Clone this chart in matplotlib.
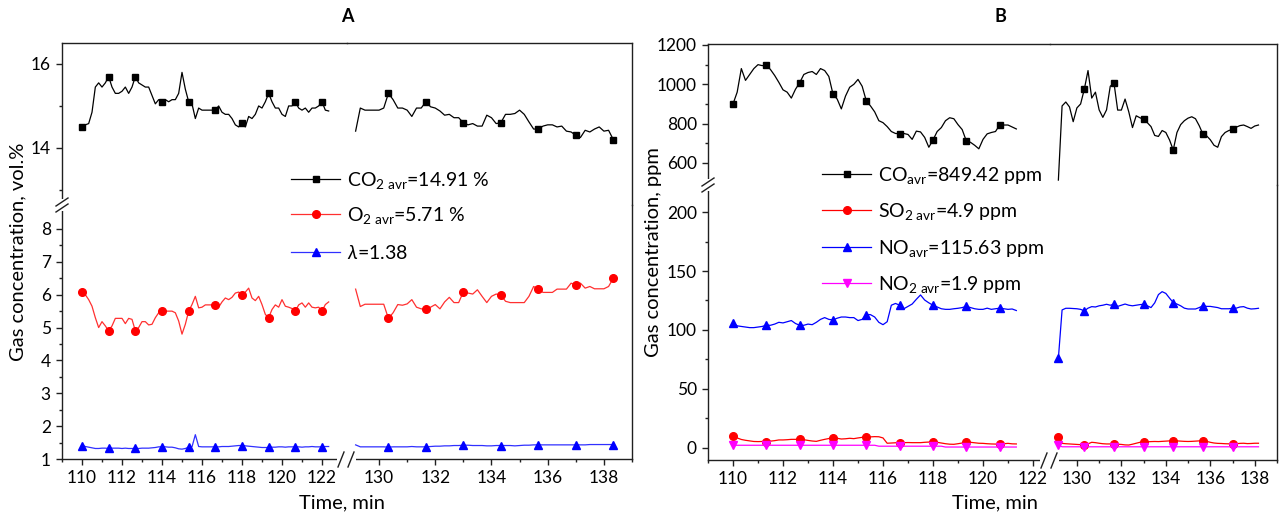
import numpy as np
import matplotlib
matplotlib.use("Agg")
import matplotlib.pyplot as plt
from matplotlib.lines import Line2D
from matplotlib.patches import Rectangle

plt.rcParams['font.family'] = ['Lato', 'DejaVu Sans']
plt.rcParams['mathtext.fontset'] = 'custom'
plt.rcParams['mathtext.rm'] = 'Lato'
plt.rcParams['mathtext.it'] = 'Lato:italic'
plt.rcParams['mathtext.bf'] = 'Lato:bold'

W, H = 1282, 520

# sampling every 10 s (1/6 min)
t_a_left = 110 + np.arange(75) / 6
t_a_right = 129 + 1 / 6 + np.arange(56) / 6
t_b_left = 110 + np.arange(69) / 6
t_b_right = 129 + 1 / 6 + np.arange(55) / 6

# ---- panel A, vol.% ----
co2_left = [14.50, 14.55, 14.58, 14.85, 15.45, 15.55, 15.45, 15.55, 15.70, 15.45,
            15.30, 15.30, 15.35, 15.45, 15.30, 15.45, 15.70, 15.55, 15.50, 15.45,
            15.45, 15.25, 15.05, 15.15, 15.10, 15.15, 15.10, 15.15, 15.15, 15.30,
            15.80, 15.40, 15.10, 15.05, 14.70, 14.95, 14.90, 14.90, 14.90, 14.90,
            14.90, 15.00, 14.85, 14.80, 14.80, 14.70, 14.55, 14.50, 14.60, 14.50,
            14.75, 14.70, 14.80, 15.00, 14.95, 15.10, 15.30, 15.10, 14.95, 14.95,
            14.80, 14.75, 15.00, 15.00, 15.10, 14.95, 14.90, 14.95, 14.85, 14.95,
            14.95, 15.00, 15.10, 14.90, 14.88]
co2_right = [14.40, 14.95, 14.90, 14.90, 14.90, 14.90, 14.95, 15.30, 15.15, 14.95,
             14.95, 14.90, 14.75, 14.95, 14.95, 15.10, 14.98, 14.95, 14.88, 14.78,
             14.80, 14.72, 14.72, 14.60, 14.55, 14.58, 14.52, 14.52, 14.78, 14.72,
             14.58, 14.60, 14.80, 14.80, 14.82, 14.90, 14.80, 14.62, 14.45, 14.45,
             14.52, 14.55, 14.55, 14.50, 14.52, 14.40, 14.38, 14.30, 14.25, 14.42,
             14.38, 14.45, 14.50, 14.40, 14.42, 14.20]
o2_left = [6.09, 6.00, 5.85, 5.65, 5.30, 5.00, 5.18, 5.05, 4.90, 5.05,
           5.28, 5.28, 5.28, 5.12, 5.28, 5.25, 4.90, 5.00, 5.18, 5.18,
           5.08, 5.10, 5.30, 5.45, 5.50, 5.50, 5.50, 5.50, 5.45, 5.20,
           4.80, 5.10, 5.50, 5.70, 5.95, 5.60, 5.62, 5.69, 5.69, 5.69,
           5.69, 5.62, 5.78, 5.90, 5.85, 5.92, 6.05, 6.08, 6.00, 6.08,
           6.20, 5.90, 5.82, 5.95, 5.70, 5.40, 5.30, 5.55, 5.69, 5.62,
           5.85, 5.65, 5.62, 5.58, 5.50, 5.69, 5.75, 5.62, 5.75, 5.62,
           5.60, 5.62, 5.50, 5.70, 5.78]
o2_right = [6.17, 5.64, 5.71, 5.71, 5.71, 5.71, 5.71, 5.28, 5.45, 5.70,
            5.68, 5.72, 5.85, 5.62, 5.57, 5.56, 5.62, 5.70, 5.57, 5.78,
            5.92, 5.76, 5.76, 6.09, 6.05, 6.02, 6.15, 5.95, 5.76, 5.95,
            6.02, 5.99, 5.80, 5.76, 5.76, 5.76, 5.76, 5.95, 6.25, 6.17,
            6.07, 6.07, 6.07, 6.17, 6.17, 6.17, 6.35, 6.30, 6.35, 6.20,
            6.25, 6.18, 6.18, 6.18, 6.25, 6.50]
lam_left = [1.41, 1.38, 1.36, 1.34, 1.32, 1.32, 1.33, 1.33, 1.32, 1.33,
            1.33, 1.33, 1.32, 1.33, 1.32, 1.32, 1.32, 1.32, 1.33, 1.33,
            1.33, 1.34, 1.35, 1.37, 1.37, 1.37, 1.36, 1.36, 1.34, 1.31,
            1.30, 1.32, 1.36, 1.37, 1.74, 1.38, 1.37, 1.37, 1.37, 1.37,
            1.37, 1.37, 1.38, 1.38, 1.38, 1.39, 1.40, 1.41, 1.41, 1.40,
            1.39, 1.38, 1.37, 1.36, 1.35, 1.35, 1.35, 1.36, 1.36, 1.37,
            1.37, 1.36, 1.37, 1.37, 1.37, 1.37, 1.36, 1.37, 1.37, 1.38,
            1.37, 1.37, 1.37, 1.38, 1.38]
lam_right = [1.43, 1.37, 1.37, 1.37, 1.37, 1.37, 1.37, 1.36, 1.37, 1.37,
             1.37, 1.37, 1.38, 1.37, 1.37, 1.37, 1.38, 1.39, 1.39, 1.40,
             1.40, 1.41, 1.41, 1.42, 1.42, 1.41, 1.41, 1.41, 1.40, 1.40,
             1.41, 1.41, 1.41, 1.41, 1.40, 1.41, 1.42, 1.42, 1.43, 1.43,
             1.43, 1.43, 1.43, 1.43, 1.43, 1.43, 1.43, 1.43, 1.43, 1.43,
             1.44, 1.44, 1.44, 1.44, 1.44, 1.44]

# ---- panel B, ppm ----
co_left = [900, 960, 1080, 1020, 1050, 1080, 1100, 1095, 1098, 1075,
           1045, 1010, 972, 960, 930, 975, 1008, 1050, 1060, 1065,
           1050, 1080, 1070, 1040, 950, 925, 875, 940, 985, 1000,
           1025, 990, 915, 890, 860, 815, 805, 785, 760, 750,
           749, 750, 745, 720, 762, 758, 730, 680, 717, 760,
           780, 815, 830, 825, 795, 770, 712, 705, 690, 672,
           720, 748, 755, 760, 793, 793, 793, 783, 773]
co_right = [513, 890, 910, 885, 810, 880, 900, 975, 1070, 930,
            960, 870, 832, 870, 990, 1008, 869, 869, 925, 860,
            780, 840, 830, 822, 805, 785, 740, 735, 765, 755,
            717, 666, 755, 795, 815, 828, 835, 825, 790, 747,
            738, 718, 690, 680, 734, 755, 765, 771, 782, 790,
            793, 785, 776, 788, 793]
so2_left = [10.2, 8.5, 7.2, 6.5, 6.0, 5.5, 5.4, 5.5, 5.4, 5.8,
            6.2, 6.8, 6.8, 7.0, 7.3, 7.3, 7.6, 7.0, 6.4, 5.9,
            5.6, 6.5, 7.3, 8.0, 8.8, 8.2, 7.6, 7.8, 8.2, 7.9,
            8.5, 9.0, 9.6, 9.4, 9.6, 9.5, 8.5, 4.0, 4.2, 4.4,
            4.5, 4.5, 4.6, 4.5, 4.5, 4.5, 4.8, 5.0, 5.1, 4.8,
            4.2, 3.6, 3.2, 3.1, 3.6, 4.2, 5.1, 4.8, 4.4, 4.0,
            3.9, 3.6, 3.4, 3.3, 3.1, 3.6, 3.9, 3.5, 3.4]
so2_right = [9.6, 3.9, 3.6, 3.4, 3.2, 3.0, 2.8, 2.5, 3.5, 4.8,
             4.5, 4.0, 3.6, 3.4, 3.4, 3.4, 3.2, 3.0, 2.6, 2.5,
             3.2, 4.0, 4.8, 5.1, 5.2, 5.4, 5.5, 5.4, 5.6, 5.8,
             6.0, 6.2, 6.0, 5.8, 5.6, 5.5, 5.6, 5.8, 6.0, 6.2,
             5.6, 4.8, 4.2, 3.9, 3.8, 3.6, 3.5, 3.4, 3.6, 3.9,
             4.0, 3.7, 3.8, 4.0, 4.0]
no_left = [106, 103.5, 103, 102.5, 102, 102, 102.5, 103, 104, 104,
           105, 106.5, 106, 107, 108, 105.5, 104, 104, 105, 104.5,
           106.5, 109, 110.5, 109, 108.5, 110, 111, 111, 110.5, 110.5,
           108, 109, 113, 113, 111, 106.5, 104.5, 107, 121, 122.5,
           121, 118, 120, 122, 126, 129.7, 125.4, 123, 121, 119.5,
           118, 117.5, 117.5, 118, 118.4, 119, 120, 119, 118, 117.5,
           117.5, 118.5, 117.5, 118, 118.5, 118, 117.5, 117.8, 116.5]
no_right = [76, 117, 118.4, 118.4, 118.2, 118, 117.5, 116.2, 118.5, 119.8,
            119.5, 120.5, 121, 121.8, 121, 121.8, 120, 121, 122, 121,
            120.5, 121, 121.5, 121.8, 120.5, 119, 123, 130, 132.5, 131,
            127, 123.2, 122, 120.5, 118.5, 117.8, 117.8, 117.8, 119, 120.5,
            120, 120, 119.5, 119, 118, 118, 118, 118.4, 118.5, 119.5,
            119.8, 118.5, 117.8, 118, 118.4]
no2_left = [2.3] * 35 + [1.5] * 16 + [0.8] * 18
no2_right = [2.5] + [1.0] * 54

labels_a = [r'CO$_{2\ \mathrm{avr}}$=14.91 %', r'O$_{2\ \mathrm{avr}}$=5.71 %',
            r'$\lambda$=1.38']
labels_b = [r'CO$_{\mathrm{avr}}$=849.42 ppm', r'SO$_{2\ \mathrm{avr}}$=4.9 ppm',
            r'NO$_{\mathrm{avr}}$=115.63 ppm', r'NO$_{2\ \mathrm{avr}}$=1.9 ppm']

BLACK, RED, BLUE, MAGENTA = '#000000', '#ff0000', '#0000ff', '#ff00ff'
SPINE = '#202020'


def rect(x0, y0, x1, y1):
    return [x0 / W, 1 - y1 / H, (x1 - x0) / W, (y1 - y0) / H]


def fig_line(xs, ys, **kw):
    fig.add_artist(Line2D([x / W for x in xs], [1 - y / H for y in ys],
                          transform=fig.transFigure, **kw))


def white_box(x0, y0, x1, y1):
    fig.add_artist(Rectangle((x0 / W, 1 - y1 / H), (x1 - x0) / W, (y1 - y0) / H,
                             transform=fig.transFigure, facecolor='white',
                             edgecolor='none', zorder=3))


def legend_entry(x0, y, label, color, marker, ms, lcolor=None):
    # handle: 49 px line with a marker in the middle, then the text
    fig_line([x0, x0 + 49], [y, y], color=lcolor or color, lw=0.9)
    fig_line([x0 + 24.5], [y], color=color, marker=marker, ms=ms, lw=0)
    fig.text((x0 + 56) / W, 1 - (y + 7) / H, label, fontsize=14, va='baseline')


def make_panel(px, py, xlims, ylims, xmaj, xmin, ymaj, ymin):
    x0, xm, x1 = px
    y0, ym, y1 = py
    tl = fig.add_axes(rect(x0, y0, xm, ym))
    tr = fig.add_axes(rect(xm, y0, x1, ym), sharey=tl)
    bl = fig.add_axes(rect(x0, ym, xm, y1), sharex=tl)
    br = fig.add_axes(rect(xm, ym, x1, y1), sharex=tr, sharey=bl)
    for ax in (tl, tr, bl, br):
        ax.patch.set_alpha(0)
        for s in ax.spines.values():
            s.set_color(SPINE)
            s.set_linewidth(1.0)
        ax.tick_params(which='both', direction='out', colors=SPINE, labelcolor='black',
                       labelsize=12.5, width=1.0)
        ax.tick_params(which='major', length=4.5)
        ax.tick_params(which='minor', length=2.5)
    tl.spines[['right', 'bottom']].set_visible(False)
    tr.spines[['left', 'bottom']].set_visible(False)
    bl.spines[['right', 'top']].set_visible(False)
    br.spines[['left', 'top']].set_visible(False)
    tl.tick_params(axis='x', which='both', bottom=False, labelbottom=False)
    tr.tick_params(axis='both', which='both', bottom=False, labelbottom=False,
                   left=False, labelleft=False)
    br.tick_params(axis='y', which='both', left=False, labelleft=False)
    bl.set_xticks(xmaj[0])
    bl.set_xticks(xmin[0], minor=True)
    br.set_xticks(xmaj[1])
    br.set_xticks(xmin[1], minor=True)
    tl.set_yticks(ymaj[0])
    tl.set_yticks(ymin[0], minor=True)
    bl.set_yticks(ymaj[1])
    bl.set_yticks(ymin[1], minor=True)
    tl.set_xlim(*xlims[0])
    tr.set_xlim(*xlims[1])
    tl.set_ylim(*ylims[0])
    bl.set_ylim(*ylims[1])
    # break marks
    white_box(x0 - 7, ym - 6, x0 + 7, ym + 6)
    for dy in (-3, 3):
        fig_line([x0 - 6, x0 + 6], [ym + dy + 4, ym + dy - 4], color=SPINE, lw=1.0, zorder=4)
    white_box(xm - 10, y1 - 5, xm + 9, y1 + 5)
    for dx in (-6, 4):
        fig_line([xm + dx - 3, xm + dx + 3], [y1 + 8, y1 - 7], color=SPINE, lw=1.0, zorder=4)
    return tl, tr, bl, br


def series(ax, t, v, color, marker, ms, every, lcolor=None):
    ax.plot(t, v, color=lcolor or color, lw=0.9, marker=marker, ms=ms,
            markerfacecolor=color, markeredgecolor=color, markevery=every)


fig = plt.figure(figsize=(W / 100, H / 100), dpi=100)

# panel A
tl, tr, bl, br = make_panel(
    (62, 347, 632), (43, 205, 459),
    [(109, 123.25), (128.86, 139.0)], [(12.64, 16.5), (1.0, 8.73)],
    [np.arange(110, 123, 2), np.arange(130, 139, 2)],
    [np.arange(109, 122, 2), np.arange(131, 140, 2)],
    [[14, 16], np.arange(1, 9)],
    [[13, 15], np.arange(1.5, 8, 1)])
ev_l = slice(0, None, 8)
ev_r = slice(7, None, 8)
series(tl, t_a_left, co2_left, BLACK, 's', 5, ev_l)
series(tr, t_a_right, co2_right, BLACK, 's', 5, ev_r)
series(bl, t_a_left, o2_left, RED, 'o', 5.5, ev_l, '#ff3030')
series(br, t_a_right, o2_right, RED, 'o', 5.5, ev_r, '#ff3030')
series(bl, t_a_left, lam_left, BLUE, '^', 6, ev_l, '#3030ff')
series(br, t_a_right, lam_right, BLUE, '^', 6, ev_r, '#3030ff')

legend_entry(291, 179, labels_a[0], BLACK, 's', 5)
legend_entry(291, 214, labels_a[1], RED, 'o', 5.5, '#ff3030')
legend_entry(291, 252, labels_a[2], BLUE, '^', 6, '#3030ff')

# panel B
tl, tr, bl, br = make_panel(
    (708, 1050, 1277), (44, 185, 460),
    [(109, 122.68), (128.79, 139.0)], [(488, 1205), (-10.2, 222.9)],
    [np.arange(110, 123, 2), np.arange(130, 139, 2)],
    [np.arange(109, 122, 2), np.arange(131, 140, 2)],
    [[600, 800, 1000, 1200], [0, 50, 100, 150, 200]],
    [[700, 900, 1100], [25, 75, 125, 175]])
ev_rb = [0] + list(range(7, 55, 8))
series(tl, t_b_left, co_left, BLACK, 's', 5, ev_l)
series(tr, t_b_right, co_right, BLACK, 's', 5, ev_r)
series(bl, t_b_left, so2_left, RED, 'o', 5.5, ev_l)
series(br, t_b_right, so2_right, RED, 'o', 5.5, ev_rb)
series(bl, t_b_left, no_left, BLUE, '^', 6, ev_l)
series(br, t_b_right, no_right, BLUE, '^', 6, ev_rb)
series(bl, t_b_left, no2_left, MAGENTA, 'v', 6, ev_l)
series(br, t_b_right, no2_right, MAGENTA, 'v', 6, ev_rb)

legend_entry(822, 174, labels_b[0], BLACK, 's', 5)
legend_entry(822, 210, labels_b[1], RED, 'o', 5.5)
legend_entry(822, 247, labels_b[2], BLUE, '^', 6)
legend_entry(822, 283, labels_b[3], MAGENTA, 'v', 6)

# titles and axis labels
fig.text(347 / W, 1 - 17 / H, 'A', ha='center', va='center', fontsize=13, fontweight='bold')
fig.text(1000 / W, 1 - 17 / H, 'B', ha='center', va='center', fontsize=13, fontweight='bold')
fig.text(18 / W, 1 - 252 / H, 'Gas concentration, vol.%', rotation=90,
         ha='center', va='center', fontsize=14.5)
fig.text(653 / W, 1 - 252 / H, 'Gas concentration, ppm', rotation=90,
         ha='center', va='center', fontsize=14.5)
fig.text(342 / W, 1 - 503 / H, 'Time, min', ha='center', va='center', fontsize=14.5)
fig.text(995 / W, 1 - 503 / H, 'Time, min', ha='center', va='center', fontsize=14.5)

fig.savefig('out.png', dpi=100)
